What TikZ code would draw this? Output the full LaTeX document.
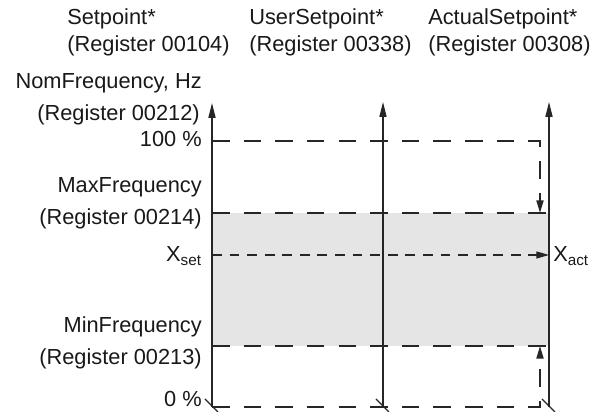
\documentclass[tikz,border=0pt]{standalone}
\usepackage{fontspec}
\setmainfont{Liberation Sans}
\usetikzlibrary{arrows.meta}

\begin{document}
\begin{tikzpicture}[x=0.025cm, y=0.025cm,
    axisline/.style={draw=black!85, line width=0.9pt, -{Triangle[length=10.5pt,width=5pt]}},
    limitline/.style={draw=black!85, line width=1.3pt, dash pattern=on 12.5pt off 10pt},
    setline/.style={draw=black!85, line width=0.8pt, dash pattern=on 7pt off 5.5pt},
    tipend/.style={-{Triangle[length=9pt,width=5pt]}},
    lbl/.style={inner sep=0pt, font=\fontsize{15.5}{18}\selectfont, text=black!90}]
    \useasboundingbox (0,0) rectangle (601,412);

    \coordinate (nom0) at (212,5);   \coordinate (nom1) at (212,309);
    \coordinate (user0) at (383,5);  \coordinate (user1) at (383,310);
    \coordinate (act0) at (549,5);   \coordinate (act1) at (549,310);
    \coordinate (p100) at (212,271); \coordinate (pmax) at (212,199);
    \coordinate (pset) at (212,157); \coordinate (pmin) at (212,66);
    \coordinate (lim) at (540,5);

    \fill[black!10] (pmin) rectangle (pmax -| act0);

    \draw[limitline] (pmax) -- (pmax -| act0);
    \draw[limitline] (pmin) -- (pmin -| act0);
    \draw[limitline, tipend] (p100) -- (p100 -| lim) -- (pmax -| lim);
    \draw[limitline, tipend] (nom0) -- (lim) -- (pmin -| lim);
    \draw[setline, tipend] (pset) -- (pset -| act0);

    \draw[axisline] (nom0) -- (nom1);
    \draw[axisline] (user0) -- (user1);
    \draw[axisline] (act0) -- (act1);
    \foreach \a in {nom0,user0,act0}
        \draw[black!85, line width=0.9pt] (\a) ++(-7,8) -- ++(13,-13);

    \node[lbl, anchor=base west] (sp)   at (67,387)  {Setpoint*};
    \node[lbl, anchor=base west] (spr)  at (67,360)  {(Register 00104)};
    \node[lbl, anchor=base west] (usp)  at (249,387) {UserSetpoint*};
    \node[lbl, anchor=base west] (uspr) at (249,360) {(Register 00338)};
    \node[lbl, anchor=base west] (asp)  at (428,387) {ActualSetpoint*};
    \node[lbl, anchor=base west] (aspr) at (428,360) {(Register 00308)};

    \node[lbl, anchor=base east] (nomf)  at (202,323) {NomFrequency, Hz};
    \node[lbl, anchor=base east] (nomr)  at (200,291) {(Register 00212)};
    \node[lbl, anchor=base east] (top)   at (202,265) {100 \%};
    \node[lbl, anchor=base east] (maxf)  at (202,219) {MaxFrequency};
    \node[lbl, anchor=base east] (maxr)  at (202,187) {(Register 00214)};
    \node[lbl, anchor=base east] (xset)  at (202,150) {X\textsubscript{set}};
    \node[lbl, anchor=base east] (minf)  at (202,79)  {MinFrequency};
    \node[lbl, anchor=base east] (minr)  at (202,47)  {(Register 00213)};
    \node[lbl, anchor=base east] (bot)   at (202,5)   {0 \%};
    \node[lbl, anchor=base west] (xact)  at (553,150) {X\textsubscript{act}};
\end{tikzpicture}
\end{document}
